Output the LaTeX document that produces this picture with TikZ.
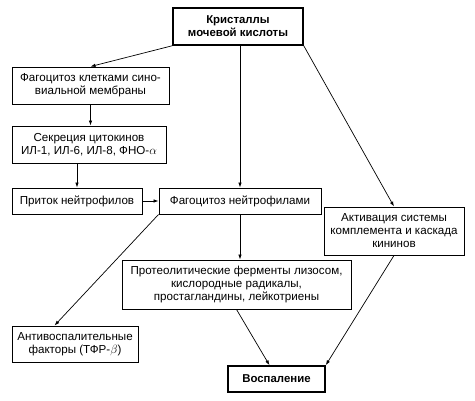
\documentclass[tikz,border=0pt]{standalone}
\usepackage{fontspec}
\setmainfont{Liberation Sans}
\usetikzlibrary{arrows.meta}

\begin{document}
\begin{tikzpicture}[x=1pt,y=-1pt,
  box/.style={draw,line width=0.9pt,align=center,inner sep=1pt,font=\fontsize{11.6}{13}\selectfont},
  keybox/.style={box,line width=1.5pt,font=\bfseries\fontsize{11.4}{13}\selectfont},
  link/.style={-{Latex[length=5pt,width=3.5pt]},line width=0.7pt}]
  \useasboundingbox (0,0) rectangle (475,401);
  \node[keybox,minimum width=130pt,minimum height=37pt] (crystals) at (238,26.5) {Кристаллы\\мочевой кислоты};
  \node[box,minimum width=157pt,minimum height=37pt] (synovial) at (90.5,85.5) {Фагоцитоз клетками сино-\\виальной мембраны};
  \node[box,minimum width=154pt,minimum height=37pt] (cytokines) at (89,144.5) {Секреция цитокинов\\ИЛ-1, ИЛ-6, ИЛ-8, ФНО-$\alpha$};
  \node[box,minimum width=130pt,minimum height=26pt] (influx) at (77,201) {Приток нейтрофилов};
  \node[box,minimum width=162pt,minimum height=26pt] (neutro) at (240,201) {Фагоцитоз нейтрофилами};
  \node[box,minimum width=140pt,minimum height=48pt] (complement) at (394,231) {Активация системы\\комплемента и каскада\\кининов};
  \node[box,minimum width=229pt,minimum height=49pt] (enzymes) at (236.5,284.5) {Протеолитические ферменты лизосом,\\кислородные радикалы,\\простагландины, лейкотриены};
  \node[box,minimum width=126pt,minimum height=36pt] (antiinfl) at (75,344) {Антивоспалительные\\факторы (ТФР-$\beta$)};
  \node[keybox,minimum width=97pt,minimum height=26pt] (inflam) at (276.5,379) {Воспаление};

  \draw[link] (crystals.south west) -- (synovial.north);
  \draw[link] (synovial.south) -- (synovial.south |- cytokines.north);
  \draw[link] (influx.north |- cytokines.south) -- (influx.north);
  \draw[link] (neutro.north |- crystals.south) -- (neutro.north);
  \draw[link] (crystals.south east) -- (complement.north);
  \draw[link] (influx.east) -- (neutro.west);
  \draw[link] (neutro.south) -- (neutro.south |- enzymes.north);
  \draw[link] (neutro.south west) -- (antiinfl.138);
  \draw[link] (enzymes.south) -- (inflam.117);
  \draw[link] (complement.south) -- (inflam.north east);
\end{tikzpicture}
\end{document}
